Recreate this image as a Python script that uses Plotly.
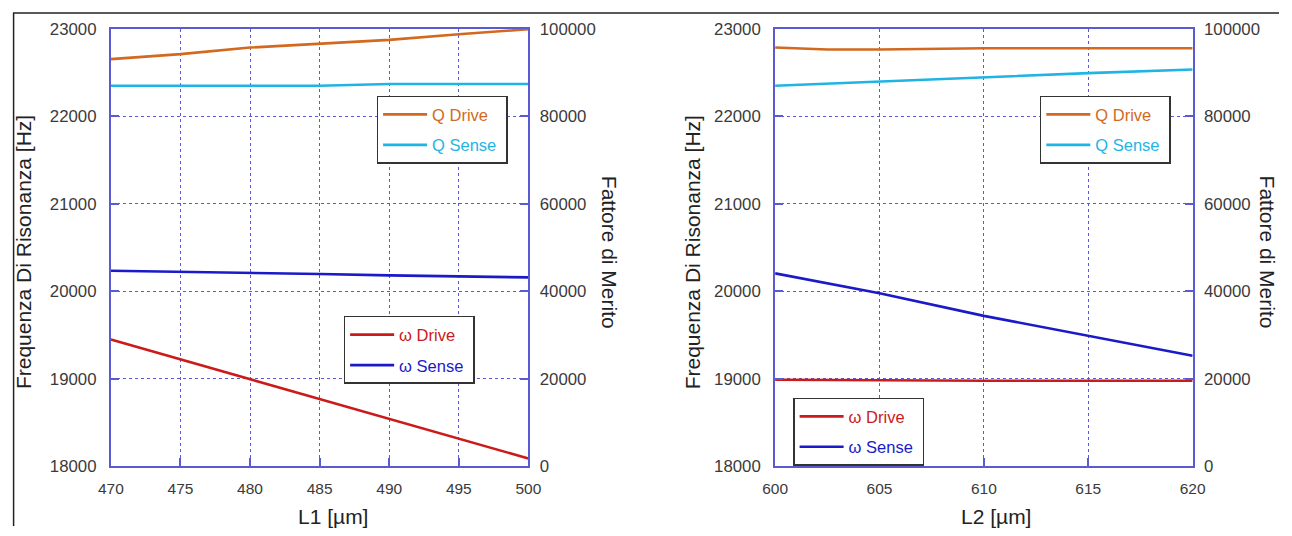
import plotly.graph_objects as go

W, H = 1292, 536

# ---------------- data ----------------
# Left chart: sweep of L1
l1 = [470, 475, 480, 485, 490, 495, 500]
l1_w_drive = [19450, 19222, 18994, 18768, 18540, 18316, 18090]
l1_w_sense = [20236, 20225, 20210, 20199, 20183, 20172, 20160]
l1_q_drive = [93100, 94240, 95740, 96650, 97490, 98790, 99930]
l1_q_sense = [87000, 87000, 87000, 87000, 87400, 87400, 87400]

# Right chart: sweep of L2
l2 = [600, 602.5, 605, 610, 615, 620]
l2_w_drive = [18990, 18985, 18980, 18978, 18978, 18978]
l2_w_sense = [20206, 20090, 19978, 19720, 19492, 19264]
l2_q_drive = [95740, 95300, 95300, 95600, 95600, 95600]
l2_q_sense = [87000, 87500, 88000, 88910, 89900, 90730]

x1_ticks = [470, 475, 480, 485, 490, 495, 500]
x2_ticks = [600, 605, 610, 615, 620]
freq_range = [18000, 23000]
q_range = [0, 100000]

C_QD = "#d2691e"
C_QS = "#1fb4e4"
C_WD = "#cc1a1a"
C_WS = "#1a1ac8"
AX = "#5a5ad2"
FONT = "Liberation Sans, Arial, sans-serif"

# mapping from page pixels to the photographed picture (measured)
OX, OY, KX, KY = 12.0, 8.0, 0.981, 0.968


def sx(p):
    """paper x fraction for a picture x position"""
    return ((p - OX) / KX) / W


def sy(p):
    """paper y fraction for a picture y position"""
    return 1 - ((p - OY) / KY) / H


fig = go.Figure()


def add(x, y, name, color, xa, ya, legend, grp):
    fig.add_trace(go.Scatter(
        x=x, y=y, mode="lines",
        name=f"<span style='color:{color}'>{name}</span>\u00a0",
        line=dict(color=color, width=2.6), xaxis=xa, yaxis=ya,
        legend=legend, legendgroup=grp, showlegend=True))


add(l1, l1_q_drive, "Q Drive", C_QD, "x", "y2", "legend", "a")
add(l1, l1_q_sense, "Q Sense", C_QS, "x", "y2", "legend", "b")
add(l1, l1_w_drive, "ω Drive", C_WD, "x", "y", "legend2", "c")
add(l1, l1_w_sense, "ω Sense", C_WS, "x", "y", "legend2", "d")
add(l2, l2_q_drive, "Q Drive", C_QD, "x2", "y4", "legend3", "e")
add(l2, l2_q_sense, "Q Sense", C_QS, "x2", "y4", "legend3", "f")
add(l2, l2_w_drive, "ω Drive", C_WD, "x2", "y3", "legend4", "g")
add(l2, l2_w_sense, "ω Sense", C_WS, "x2", "y3", "legend4", "h")

ytickfont = dict(family=FONT, size=16.8, color="#3a3a3a")
xtickfont = dict(family=FONT, size=15.5, color="#3a3a3a")
ydom = [sy(467), sy(28)]

common = dict(showline=True, linecolor=AX, linewidth=2, ticks="inside", ticklen=8,
              tickcolor=AX, tickwidth=2, zeroline=False, tickformat="d")
grid = dict(showgrid=True, gridcolor=AX, gridwidth=1, griddash="dot")

xcommon = dict(common, mirror=True, ticklabelstandoff=7, tickfont=xtickfont, **grid)
yleft = dict(common, **grid, tickfont=ytickfont, ticklabelstandoff=9)
yright = dict(common, showgrid=False, tickfont=ytickfont, ticklabelstandoff=6,
              side="right", range=q_range, dtick=20000)

leg = dict(bgcolor="white", bordercolor="#333333", borderwidth=1.5,
           font=dict(family=FONT, size=16.5), xanchor="left", yanchor="top",
           tracegroupgap=6, itemwidth=44)

fig.update_layout(
    width=W, height=H,
    margin=dict(l=0, r=0, t=0, b=0),
    paper_bgcolor="white", plot_bgcolor="white",
    font=dict(family=FONT),
    xaxis=dict(xcommon, domain=[sx(110), sx(528)], range=[470, 500],
               tickvals=x1_ticks, anchor="y"),
    yaxis=dict(yleft, domain=ydom, range=freq_range, dtick=1000, anchor="x"),
    yaxis2=dict(yright, overlaying="y", anchor="x"),
    xaxis2=dict(xcommon, domain=[sx(775), sx(1193)], range=[600, 620],
                tickvals=x2_ticks, anchor="y3"),
    yaxis3=dict(yleft, domain=ydom, range=freq_range, dtick=1000, anchor="x2"),
    yaxis4=dict(yright, overlaying="y3", anchor="x2"),
    legend=dict(leg, x=sx(376), y=sy(95)),
    legend2=dict(leg, x=sx(343), y=sy(316)),
    legend3=dict(leg, x=sx(1040), y=sy(95)),
    legend4=dict(leg, x=sx(793), y=sy(398)),
    showlegend=True,
)

title_font = dict(family=FONT, size=21, color="#222222")
ann = [
    ("Frequenza Di Risonanza [Hz]", 22, 252, -90),
    ("Fattore di Merito", 610, 252, 90),
    ("Frequenza Di Risonanza [Hz]", 692, 252, -90),
    ("Fattore di Merito", 1268, 252, 90),
]
for text, x, y, ang in ann:
    fig.add_annotation(text=text, x=sx(x), y=sy(y), xref="paper", yref="paper",
                       showarrow=False, textangle=ang, font=title_font,
                       xanchor="center", yanchor="middle")
for text, x in (("L1 [µm]", 332), ("L2 [µm]", 996)):
    fig.add_annotation(text=text, x=sx(x), y=0, xref="paper", yref="paper",
                       showarrow=False, font=title_font, yshift=-4,
                       xanchor="center", yanchor="bottom")

# thin outer frame (top and left edges)
fig.add_shape(type="line", xref="paper", yref="paper", x0=0, x1=1, y0=sy(12), y1=sy(12),
              line=dict(color="#222222", width=1.5))
fig.add_shape(type="line", xref="paper", yref="paper", x0=0.6 / W, x1=0.6 / W, y0=0, y1=sy(12),
              line=dict(color="#222222", width=1.5))

fig.write_html(
    "out.html",
    config=dict(displayModeBar=False),
    post_script="document.body.style.margin='0';document.body.style.overflow='hidden';",
)
